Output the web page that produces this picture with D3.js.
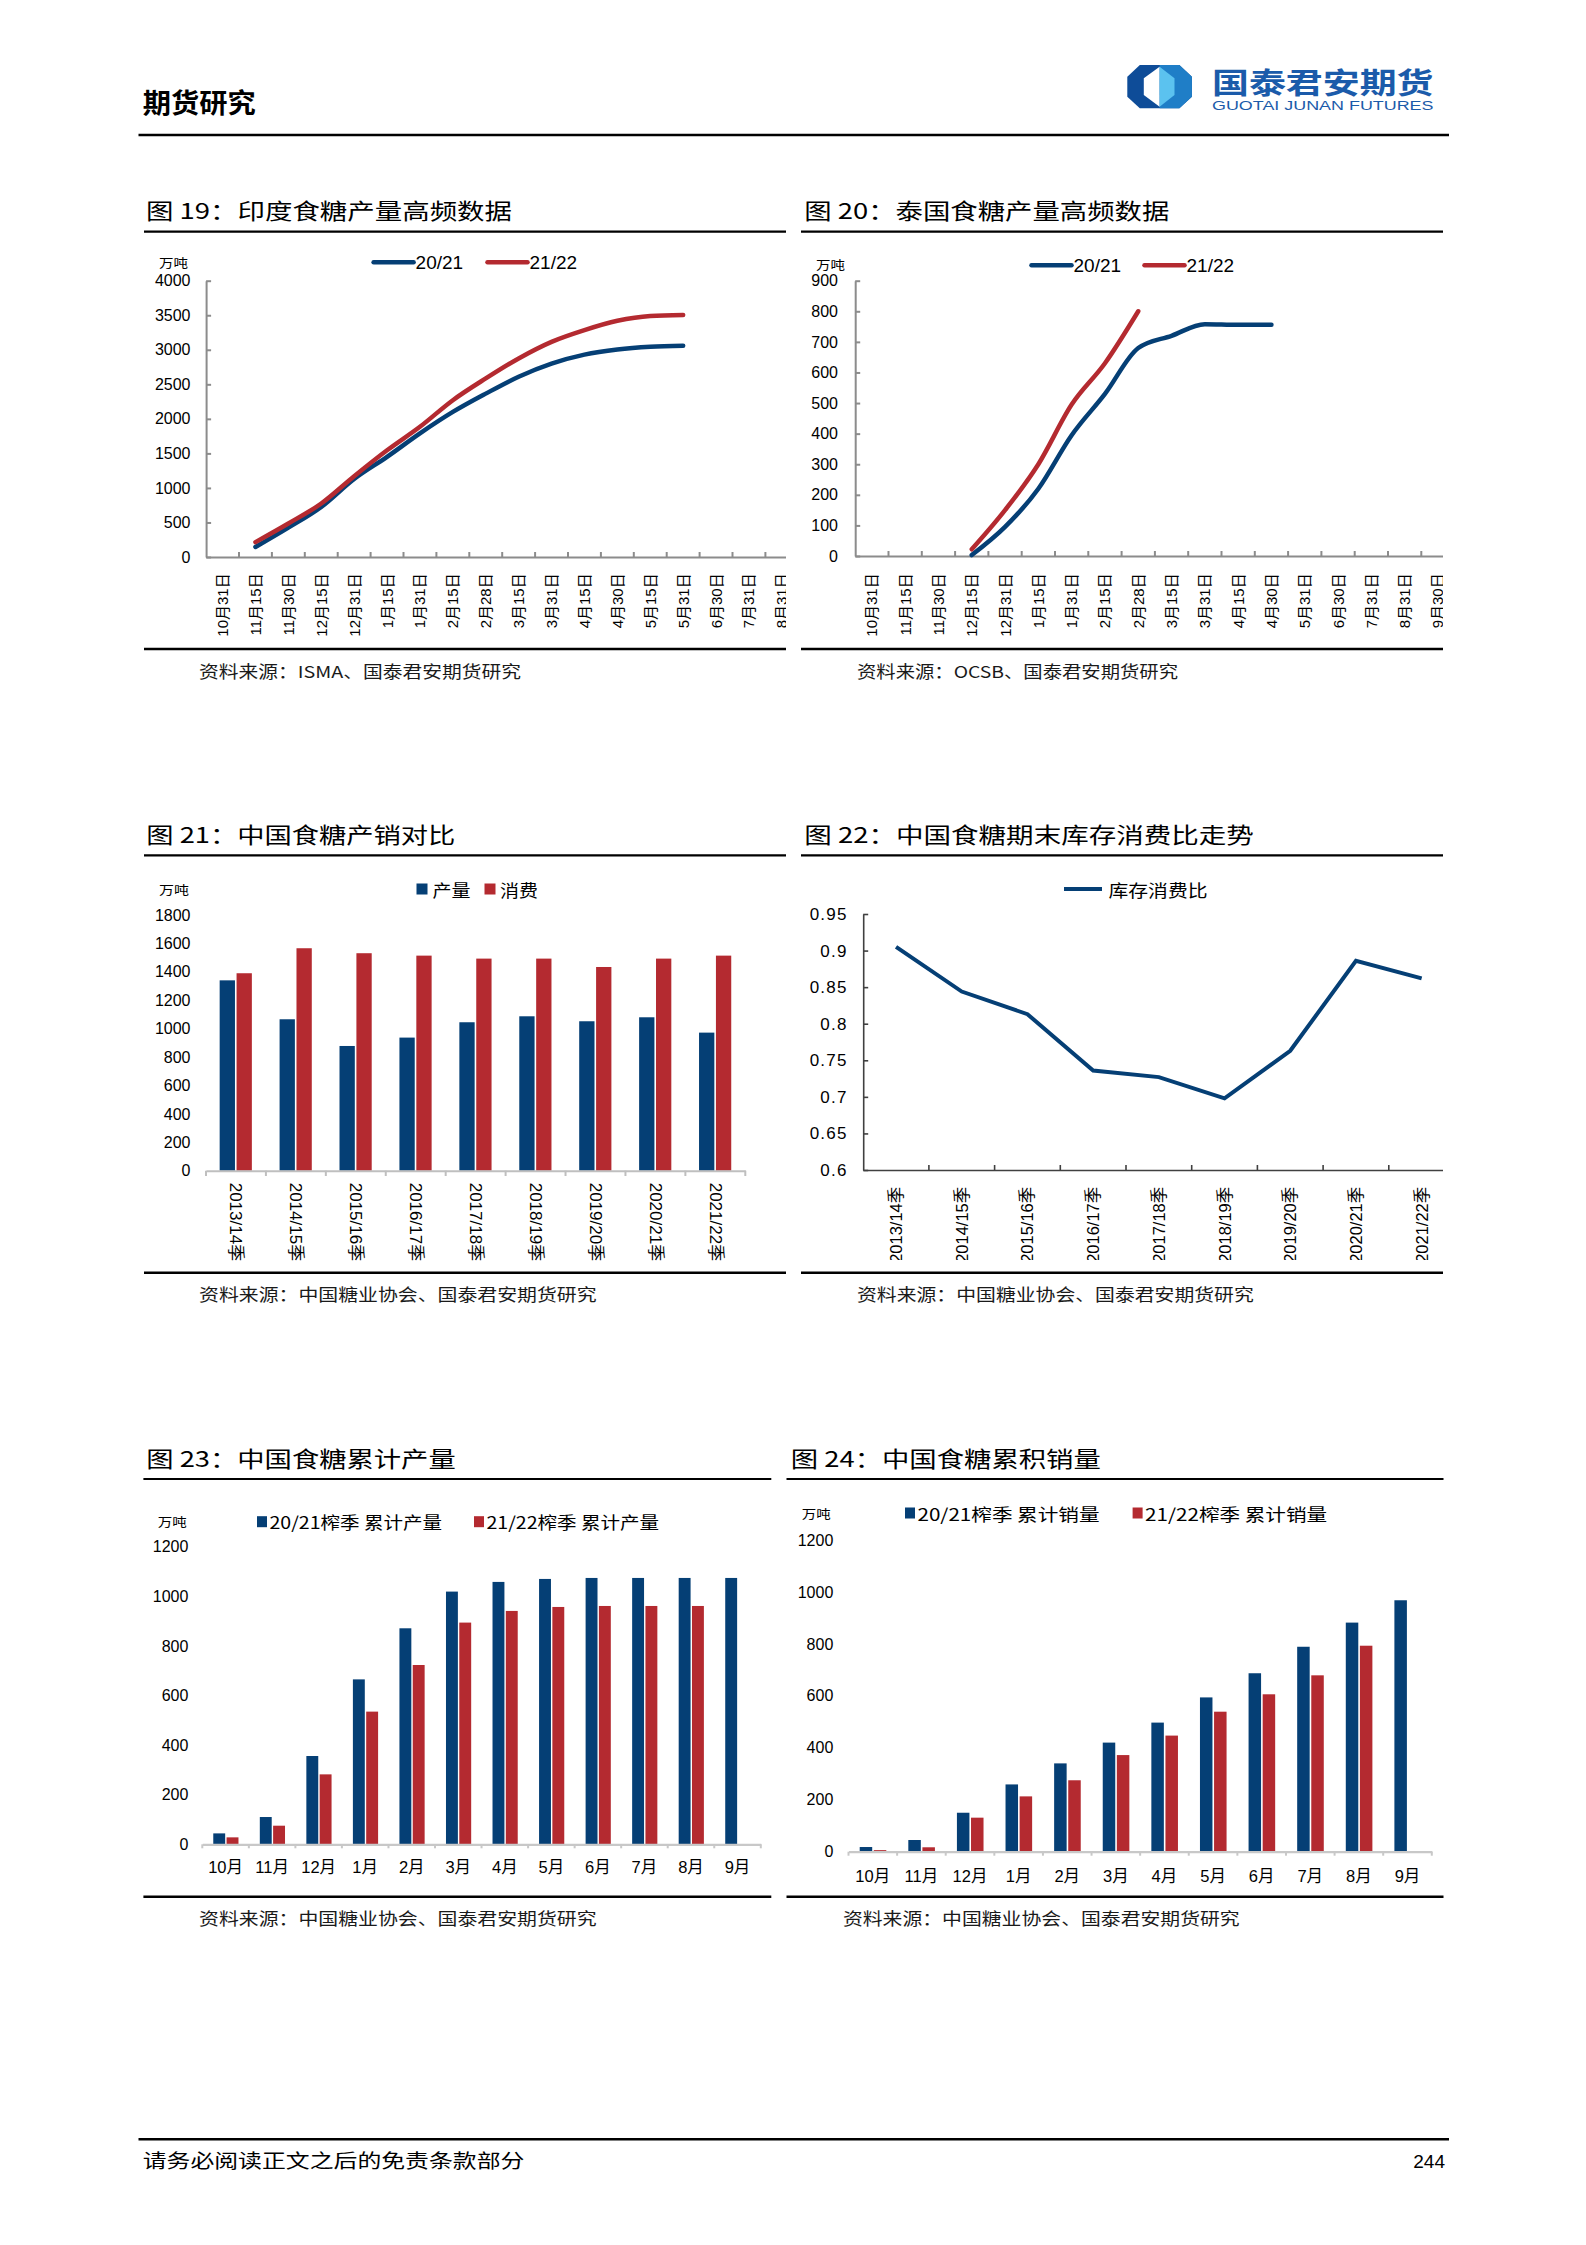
<!DOCTYPE html>
<html><head><meta charset="utf-8">
<script src="https://cdn.jsdelivr.net/npm/d3@7"></script>
<style>
body{margin:0;background:#fff}
svg{display:block}
</style></head><body><svg id="page" width="1586" height="2245"></svg>
<script>
// ---------------- DATA ----------------
const indiaDates = ["10月31日","11月15日","11月30日","12月15日","12月31日","1月15日","1月31日","2月15日","2月28日","3月15日","3月31日","4月15日","4月30日","5月15日","5月31日","6月30日","7月31日","8月31日"];
const india2021 = [null,145,425,725,1130,1450,1790,2100,2365,2610,2800,2930,3005,3045,3060,null,null,null];
const india2122 = [null,215,485,775,1170,1545,1885,2270,2585,2875,3115,3285,3420,3490,3505,null,null,null];
const indiaTicks = [0,500,1000,1500,2000,2500,3000,3500,4000];

const thaiDates = ["10月31日","11月15日","11月30日","12月15日","12月31日","1月15日","1月31日","2月15日","2月28日","3月15日","3月31日","4月15日","4月30日","5月31日","6月30日","7月31日","8月31日","9月30日"];
const thai2021 = [null,null,null,3,95,220,395,530,680,720,758,756,756,null,null,null,null,null];
const thai2122 = [null,null,null,22,150,300,495,630,800,null,null,null,null,null,null,null,null,null];
const thaiTicks = [0,100,200,300,400,500,600,700,800,900];

const seasons = ["2013/14季","2014/15季","2015/16季","2016/17季","2017/18季","2018/19季","2019/20季","2020/21季","2021/22季"];
const cnProduction = [1340,1066,878,937,1045,1087,1052,1080,972];
const cnConsumption = [1390,1566,1531,1514,1493,1493,1434,1493,1514];
const cnTicks = [0,200,400,600,800,1000,1200,1400,1600,1800];

const stockRatio = [0.905,0.844,0.813,0.736,0.727,0.698,0.763,0.886,0.862];
const ratioTicks = [0.6,0.65,0.7,0.75,0.8,0.85,0.9,0.95];
const ratioTickLabels = ["0.6","0.65","0.7","0.75","0.8","0.85","0.9","0.95"];

const months = ["10月","11月","12月","1月","2月","3月","4月","5月","6月","7月","8月","9月"];
const prod2021 = [44,110,356,665,871,1019,1058,1070,1074,1074,1074,1074];
const prod2122 = [28,75,282,535,723,894,941,957,961,961,961,null];
const sales2021 = [18,45,150,259,340,420,497,594,687,789,882,968];
const sales2122 = [6,17,131,213,275,372,447,539,606,679,793,null];
const cumTicks = [0,200,400,600,800,1000,1200];

// ---------------- STYLE ----------------
const BLUE = "#053F75", RED = "#B42A30";
const CJK = '"Noto Sans CJK SC", "Liberation Sans", sans-serif';
const NUM = '"Liberation Sans", "Noto Sans CJK SC", sans-serif';

const svg = d3.select("#page");
const defs = svg.append("defs");
svg.append("rect").attr("width",1586).attr("height",2245).attr("fill","#fff");

function txt(p, x, y, s, o = {}) {
  const t = p.append("text").attr("x", x).attr("y", y).text(s)
    .attr("font-family", o.ff || CJK).attr("font-size", o.size || 16)
    .attr("fill", o.fill || "#000");
  if (o.weight) t.attr("font-weight", o.weight);
  if (o.anchor) t.attr("text-anchor", o.anchor);
  if (o.base) t.attr("dominant-baseline", o.base);
  if (o.len) t.attr("textLength", o.len).attr("lengthAdjust", "spacingAndGlyphs");
  return t;
}
function hline(x1, x2, y, w, c) {
  svg.append("line").attr("x1", x1).attr("x2", x2).attr("y1", y).attr("y2", y)
    .attr("stroke", c || "#000").attr("stroke-width", w);
}

// ---------------- HEADER / FOOTER ----------------
txt(svg, 142.7, 113, "期货研究", {size: 27, weight: 700, len: 113});
hline(138.5, 1449, 135, 2.5);
// logo
const logo = svg.append("g");
logo.append("polygon").attr("points","1127.3,76.7 1139.8,65 1179.4,65 1191.9,76.7 1191.9,96.7 1179.4,108.3 1139.8,108.3 1127.3,96.7").attr("fill","#0E4C98");
logo.append("polygon").attr("points","1159.6,65 1179.4,65 1191.9,76.7 1191.9,96.7 1179.4,108.3 1159.6,108.3").attr("fill","#1F7EC7");
logo.append("polygon").attr("points","1143.8,78.3 1159.6,66.7 1159.6,106.7 1143.8,95").attr("fill","#fff");
logo.append("polygon").attr("points","1159.6,66.7 1174.5,78.3 1174.5,95 1159.6,106.7").attr("fill","#5BC2EF");
txt(svg, 1212, 94, "国泰君安期货", {size: 29, weight: 700, fill: "#1B5BAA", len: 221.5});
txt(svg, 1212, 109.5, "GUOTAI JUNAN FUTURES", {ff: NUM, size: 12.5, fill: "#1B5BAA", len: 221.5});

hline(138.5, 1449, 2139.3, 2.5);
txt(svg, 142.7, 2168, "请务必阅读正文之后的免责条款部分", {size: 19, len: 381.7});
txt(svg, 1445, 2168, "244", {ff: NUM, size: 19, anchor: "end"});

// ---------------- FRAMES ----------------
function frame(o) {
  txt(svg, o.tx, o.ty, o.title, {size: 22, len: o.tw});
  hline(o.r1, o.r2, o.rTop, 2.2);
  hline(o.r1, o.r2, o.rBot, 2.6);
  txt(svg, o.sx, o.sy, o.src, {size: 16.5, fill: "#1a1a1a", len: o.sw});
}
frame({title:"图 19：印度食糖产量高频数据", tx:146, ty:219, tw:366, r1:144, r2:786, rTop:231.7, rBot:649,
  src:"资料来源：ISMA、国泰君安期货研究", sx:199, sy:678, sw:322});
frame({title:"图 20：泰国食糖产量高频数据", tx:804.3, ty:219, tw:365, r1:801, r2:1443, rTop:231.7, rBot:649,
  src:"资料来源：OCSB、国泰君安期货研究", sx:857, sy:678, sw:321});
frame({title:"图 21：中国食糖产销对比", tx:146.3, ty:843, tw:309, r1:144, r2:786, rTop:855.3, rBot:1272.7,
  src:"资料来源：中国糖业协会、国泰君安期货研究", sx:199, sy:1301, sw:397.6});
frame({title:"图 22：中国食糖期末库存消费比走势", tx:804.3, ty:843, tw:449.5, r1:801, r2:1443, rTop:855.3, rBot:1272.7,
  src:"资料来源：中国糖业协会、国泰君安期货研究", sx:857, sy:1301, sw:396.8});
frame({title:"图 23：中国食糖累计产量", tx:146.3, ty:1467, tw:309.4, r1:143.4, r2:771.3, rTop:1479, rBot:1896.7,
  src:"资料来源：中国糖业协会、国泰君安期货研究", sx:199, sy:1925, sw:397.6});
frame({title:"图 24：中国食糖累积销量", tx:790.8, ty:1467, tw:310, r1:786.5, r2:1443.5, rTop:1479, rBot:1896.7,
  src:"资料来源：中国糖业协会、国泰君安期货研究", sx:842.9, sy:1925, sw:396.8});

let clipN = 0;
function clipGroup(x, y, w, h) {
  const id = "clip" + (clipN++);
  defs.append("clipPath").attr("id", id).append("rect").attr("x", x).attr("y", y).attr("width", w).attr("height", h);
  return svg.append("g").attr("clip-path", `url(#${id})`);
}

function styleYAxis(ax, color, width, size, ff) {
  ax.attr("font-family", ff || NUM).attr("font-size", size || 16);
  ax.select(".domain").attr("stroke", color).attr("stroke-width", width);
  ax.selectAll(".tick line").attr("stroke", color).attr("stroke-width", width);
  ax.selectAll(".tick text").attr("fill", "#000");
}

// ---------------- LINE CHARTS (19, 20) ----------------
function seasonLineChart(o) {
  const g = clipGroup(o.clip[0], o.clip[1], o.clip[2], o.clip[3]);
  const x = d3.scaleBand().domain(o.cats).range([o.x0, o.x0 + o.step * o.cats.length]);
  const y = d3.scaleLinear().domain([o.ticks[0], o.ticks[o.ticks.length - 1]]).range([o.y0, o.y1]);
  const ya = g.append("g").attr("transform", `translate(${o.x0},0)`)
    .call(d3.axisLeft(y).tickValues(o.ticks).tickSize(-5).tickSizeOuter(0).tickPadding(o.x0 - o.labelRight).tickFormat(d3.format("d")));
  styleYAxis(ya, "#8C8C8C", 2, 16);
  const xa = g.append("g").attr("transform", `translate(0,${o.y0})`)
    .call(d3.axisBottom(x).tickValues([]).tickSizeOuter(0));
  xa.select(".domain").attr("stroke", "#8C8C8C").attr("stroke-width", 2);
  g.selectAll(".bt").data(o.cats.slice(1)).join("line")
    .attr("x1", d => x(d)).attr("x2", d => x(d)).attr("y1", o.y0).attr("y2", o.y0 - 5)
    .attr("stroke", "#8C8C8C").attr("stroke-width", 2);
  g.selectAll(".xl").data(o.cats).join("text")
    .attr("transform", d => `translate(${x(d) + x.bandwidth() / 2},${o.labelTop}) rotate(-90)`)
    .attr("text-anchor", "end").attr("dominant-baseline", "central")
    .attr("font-family", NUM).attr("font-size", 15).text(d => d);
  const line = d3.line().defined(d => d != null)
    .x((d, i) => x(o.cats[i]) + x.bandwidth() / 2).y(d => y(d)).curve(d3.curveMonotoneX);
  o.series.forEach(s => {
    g.append("path").datum(s.values).attr("d", line).attr("fill", "none")
      .attr("stroke", s.color).attr("stroke-width", 4.5).attr("stroke-linecap", "round").attr("stroke-linejoin", "round");
  });
  // unit
  txt(svg, o.unit[0], o.unit[1], "万吨", {size: 12.5, base: "central", len: 29});
  // legend
  o.series.forEach((s, i) => {
    const lx = o.legend[i];
    svg.append("line").attr("x1", lx).attr("x2", lx + 40).attr("y1", o.legendY).attr("y2", o.legendY)
      .attr("stroke", s.color).attr("stroke-width", 4.5).attr("stroke-linecap", "round");
    txt(svg, lx + 42, o.legendY, s.name, {ff: NUM, size: 19, base: "central"});
  });
}

seasonLineChart({cats: indiaDates, x0: 206.1, step: 32.9, y0: 557, y1: 280.7, ticks: indiaTicks, labelRight: 190.5,
  labelTop: 573.3, clip: [140, 240, 646, 400], unit: [159, 262.5], legend: [373.6, 487.5], legendY: 262.3,
  series: [{name: "20/21", values: india2021, color: BLUE}, {name: "21/22", values: india2122, color: RED}]});

seasonLineChart({cats: thaiDates, x0: 855.2, step: 33.3, y0: 556, y1: 280.7, ticks: thaiTicks, labelRight: 838,
  labelTop: 573.3, clip: [795, 240, 648, 400], unit: [816, 264], legend: [1031.5, 1144.5], legendY: 265.3,
  series: [{name: "20/21", values: thai2021, color: BLUE}, {name: "21/22", values: thai2122, color: RED}]});

// ---------------- CHART 21 (grouped bars) ----------------
(function () {
  const g = svg.append("g");
  const x = d3.scaleBand().domain(seasons).range([206, 745.3]);
  const y = d3.scaleLinear().domain([0, 1800]).range([1170.7, 915]);
  const ya = g.append("g").attr("transform", "translate(206,0)")
    .call(d3.axisLeft(y).tickValues(cnTicks).tickSize(0).tickPadding(15.5).tickFormat(d3.format("d")));
  styleYAxis(ya, "none", 0, 16);
  ya.select(".domain").remove();
  const bw = 15.3;
  g.selectAll(".b1").data(cnProduction).join("rect")
    .attr("x", (d, i) => x(seasons[i]) + x.bandwidth() / 2 - 16.3).attr("width", bw)
    .attr("y", d => y(d)).attr("height", d => y(0) - y(d)).attr("fill", BLUE);
  g.selectAll(".b2").data(cnConsumption).join("rect")
    .attr("x", (d, i) => x(seasons[i]) + x.bandwidth() / 2 + 0.6).attr("width", bw)
    .attr("y", d => y(d)).attr("height", d => y(0) - y(d)).attr("fill", RED);
  const xa = g.append("g").attr("transform", "translate(0,1170.7)")
    .call(d3.axisBottom(x).tickValues([]).tickSizeOuter(0));
  xa.select(".domain").attr("stroke", "#BFBFBF").attr("stroke-width", 2);
  const bounds = seasons.map(s => x(s)).concat([x.range()[1]]);
  g.selectAll(".bt").data(bounds).join("line")
    .attr("x1", d => d).attr("x2", d => d).attr("y1", 1170.7).attr("y2", 1176)
    .attr("stroke", "#BFBFBF").attr("stroke-width", 2);
  g.selectAll(".xl").data(seasons).join("text")
    .attr("transform", d => `translate(${x(d) + x.bandwidth() / 2},1182.7) rotate(90)`)
    .attr("text-anchor", "start").attr("dominant-baseline", "central")
    .attr("font-family", NUM).attr("font-size", 17).text(d => d);
  txt(svg, 159, 889, "万吨", {size: 12.5, base: "central", len: 30});
  svg.append("rect").attr("x", 416.5).attr("y", 883.5).attr("width", 11).attr("height", 11).attr("fill", BLUE);
  txt(svg, 432.5, 889, "产量", {size: 17, base: "central", len: 38});
  svg.append("rect").attr("x", 484.5).attr("y", 883.5).attr("width", 11).attr("height", 11).attr("fill", RED);
  txt(svg, 500, 889, "消费", {size: 17, base: "central", len: 38});
})();

// ---------------- CHART 22 (ratio line) ----------------
(function () {
  const g = clipGroup(795, 860, 648, 400);
  const x = d3.scaleBand().domain(seasons).range([863.2, 863.2 + 65.7 * 9]);
  const y = d3.scaleLinear().domain([0.6, 0.95]).range([1170, 914]);
  const ya = g.append("g").attr("transform", "translate(863.2,0)")
    .call(d3.axisLeft(y).tickValues(ratioTicks).tickSize(-5).tickSizeOuter(0).tickPadding(15.6)
      .tickFormat((d, i) => ratioTickLabels[i]));
  styleYAxis(ya, "#404040", 1.6, 17);
  ya.selectAll(".tick text").attr("letter-spacing", 1.2);
  const xa = g.append("g").attr("transform", "translate(0,1170)")
    .call(d3.axisBottom(x).tickValues([]).tickSizeOuter(0));
  xa.select(".domain").attr("stroke", "#404040").attr("stroke-width", 1.6);
  g.selectAll(".bt").data(seasons.slice(1)).join("line")
    .attr("x1", d => x(d)).attr("x2", d => x(d)).attr("y1", 1170).attr("y2", 1165)
    .attr("stroke", "#404040").attr("stroke-width", 1.6);
  g.selectAll(".xl").data(seasons).join("text")
    .attr("transform", d => `translate(${x(d) + x.bandwidth() / 2},1186.7) rotate(-90)`)
    .attr("text-anchor", "end").attr("dominant-baseline", "central")
    .attr("font-family", NUM).attr("font-size", 16.5).text(d => d);
  const line = d3.line().x((d, i) => x(seasons[i]) + x.bandwidth() / 2).y(d => y(d));
  g.append("path").datum(stockRatio).attr("d", line).attr("fill", "none")
    .attr("stroke", BLUE).attr("stroke-width", 4).attr("stroke-linejoin", "miter");
  svg.append("line").attr("x1", 1064).attr("x2", 1102).attr("y1", 889).attr("y2", 889)
    .attr("stroke", BLUE).attr("stroke-width", 4);
  txt(svg, 1108.5, 889, "库存消费比", {size: 17, base: "central", len: 99});
})();

// ---------------- CHARTS 23, 24 (cumulative bars) ----------------
function cumBars(o) {
  const g = svg.append("g");
  const x = d3.scaleBand().domain(months).range([o.x0, o.x1]);
  const y = d3.scaleLinear().domain([0, 1200]).range([o.y0, o.y1]);
  const ya = g.append("g").attr("transform", `translate(${o.x0},0)`)
    .call(d3.axisLeft(y).tickValues(cumTicks).tickSize(0).tickPadding(o.x0 - o.labelRight).tickFormat(d3.format("d")));
  styleYAxis(ya, "none", 0, 16);
  ya.select(".domain").remove();
  const bw = o.bw;
  const c = m => x(m) + x.bandwidth() / 2;
  g.selectAll(".b1").data(o.s1).join("rect")
    .attr("x", (d, i) => c(months[i]) - bw - o.gap / 2 + o.shift).attr("width", bw)
    .attr("y", d => y(d)).attr("height", d => y(0) - y(d)).attr("fill", BLUE);
  g.selectAll(".b2").data(o.s2.map((v, i) => ({v, i})).filter(d => d.v != null)).join("rect")
    .attr("x", d => c(months[d.i]) + o.gap / 2 + o.shift).attr("width", bw)
    .attr("y", d => y(d.v)).attr("height", d => y(0) - y(d.v)).attr("fill", RED);
  const xa = g.append("g").attr("transform", `translate(0,${o.y0})`)
    .call(d3.axisBottom(x).tickValues([]).tickSizeOuter(0));
  xa.select(".domain").attr("stroke", "#C8C8C8").attr("stroke-width", 2.2);
  const bounds = months.map(m => x(m)).concat([o.x1]);
  g.selectAll(".bt").data(bounds).join("line")
    .attr("x1", d => d).attr("x2", d => d).attr("y1", o.y0).attr("y2", o.y0 + 4)
    .attr("stroke", "#C8C8C8").attr("stroke-width", 2);
  g.selectAll(".xl").data(months).join("text")
    .attr("x", d => c(d)).attr("y", o.labelY).attr("text-anchor", "middle")
    .attr("font-family", NUM).attr("font-size", 16.5).text(d => d);
  txt(svg, o.unit[0], o.unit[1], "万吨", {size: 12.5, base: "central", len: 29});
  svg.append("rect").attr("x", o.leg[0]).attr("y", o.legY - 5.5).attr("width", 10).attr("height", 11).attr("fill", BLUE);
  txt(svg, o.leg[0] + 12.5, o.legY, o.names[0], {size: 17, base: "central", len: o.legW});
  svg.append("rect").attr("x", o.leg[1]).attr("y", o.legY - 5.5).attr("width", 10).attr("height", 11).attr("fill", RED);
  txt(svg, o.leg[1] + 12.5, o.legY, o.names[1], {size: 17, base: "central", len: o.legW});
}

cumBars({x0: 202.3, x1: 760.8, y0: 1844.3, y1: 1546.7, labelRight: 188.4, labelY: 1873.3, bw: 11.9, gap: 1.4, shift: 0.3,
  s1: prod2021, s2: prod2122, unit: [157.7, 1521.7], leg: [257, 474], legY: 1521.7, legW: 172.6,
  names: ["20/21榨季 累计产量", "21/22榨季 累计产量"]});

cumBars({x0: 848.5, x1: 1431.8, y0: 1851.7, y1: 1540, labelRight: 833.3, labelY: 1881.7, bw: 12.5, gap: 1.6, shift: 0.2,
  s1: sales2021, s2: sales2122, unit: [801.7, 1513], leg: [905, 1132.6], legY: 1513, legW: 182,
  names: ["20/21榨季 累计销量", "21/22榨季 累计销量"]});
</script></body></html>
